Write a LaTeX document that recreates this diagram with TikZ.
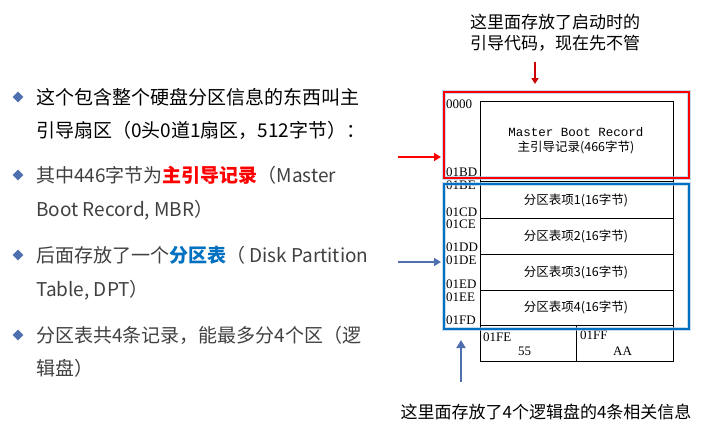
\documentclass[tikz,border=0pt]{standalone}
\usepackage{fontspec}
\setmainfont{Noto Sans CJK SC}
\newfontfamily\cjk{Noto Sans CJK SC}
\newfontfamily\monof{Liberation Mono}
\newfontfamily\serf{Liberation Serif}
\usetikzlibrary{arrows.meta,shapes.geometric}
\definecolor{bul}{HTML}{4F6FB0}
\definecolor{txt}{HTML}{404040}
\definecolor{mblue}{HTML}{0070C0}
\definecolor{glow}{HTML}{9DC3E6}
\begin{document}
\begin{tikzpicture}[x=1pt,y=-1pt,
  btxt/.style={anchor=west,inner sep=0pt,font=\fontsize{19}{22}\selectfont,text=txt},
  bmark/.style={diamond,fill=bul,inner sep=0pt,minimum size=11pt},
  cell/.style={draw,line width=0.6pt},
  ctxt/.style={font=\fontsize{12.5}{15}\selectfont,inner sep=0pt},
  hex/.style={font=\serf\fontsize{13}{13}\selectfont,inner sep=0pt,anchor=west},
  note/.style={font=\fontsize{17}{21}\selectfont,inner sep=0pt}]
\useasboundingbox (0,0) rectangle (716,432);
% bullets
\foreach \y/\n in {97/m1,175/m2,255/m3,335/m4} \node[bmark] (\n) at (18,\y) {};
\node[btxt,text=black] (t1) at (36,97) {这个包含整个硬盘分区信息的东西叫主};
\node[btxt,text=black] (t1b) at (36,130) {引导扇区（0头0道1扇区，512字节）：};
\node[btxt] (t2) at (36,175) {其中446字节为\textcolor{red}{\bfseries 主引导记录}（Master};
\node[btxt] (t2b) at (36,210) {Boot Record, MBR）};
\node[btxt] (t3) at (36,255) {后面存放了一个\textcolor{mblue}{\bfseries 分区表}（ Disk Partition};
\node[btxt] (t3b) at (36,290) {Table, DPT）};
\node[btxt] (t4) at (36,335) {分区表共4条记录，能最多分4个区（逻};
\node[btxt] (t4b) at (36,368) {辑盘）};
% table
\draw[cell] (480,101) rectangle (673,361);
\foreach \y in {181,218,254,290,325} \draw[cell] (480,\y) -- (673,\y);
\draw[cell] (576,325) -- (576,361);
\node[ctxt,align=center] (mbr) at (576,141) {{\monof Master Boot Record}\\主引导记录(466字节)};
\node[ctxt] (p1) at (576,200) {分区表项1(16字节)};
\node[ctxt] (p2) at (576,236) {分区表项2(16字节)};
\node[ctxt] (p3) at (576,272) {分区表项3(16字节)};
\node[ctxt] (p4) at (576,307) {分区表项4(16字节)};
\foreach \y/\l in {104/0000,172/01BD,185/01BE,212/01CD,224/01CE,247/01DD,260/01DE,284/01ED,297/01EE,320/01FD}
  \node[hex] (h\l) at (446,\y) {\l};
\node[hex] (hfe) at (483,337) {01FE};
\node[hex] (h55) at (518,351) {55};
\node[hex] (hff) at (580,335) {01FF};
\node[hex] (haa) at (613,351) {AA};
% highlight boxes
\draw[glow,line width=4pt,opacity=0.6] (444,92) rectangle (689,178);
\draw[glow,line width=4pt,opacity=0.6] (444,184) rectangle (689,329);
\draw[red,line width=1.5pt] (444,92) rectangle (689,178);
\draw[mblue,line width=1.5pt] (444,184) rectangle (689,329);
\coordinate (mbrbox) at (441,157);
\coordinate (dptbox) at (441,262);
\coordinate (topbox) at (535,84);
\coordinate (botbox) at (461,340);
% notes
\node[note,align=center] (n1) at (555,33) {这里面存放了启动时的\\引导代码，现在先不管};
\node[note] (n2) at (546,412) {这里面存放了4个逻辑盘的4条相关信息};
% arrows
\draw[red,line width=2pt,-{Triangle[length=7pt,width=8pt]}] (398,157) -- (mbrbox);
\draw[bul,line width=2pt,-{Triangle[length=7pt,width=8pt]}] (398,262) -- (dptbox);
\draw[red!80!black,line width=1.5pt,-{Triangle[length=6pt,width=7pt]}] (535,62) -- (topbox);
\draw[bul,line width=2.5pt,-{Triangle[length=8pt,width=9pt]}] (461,382) -- (botbox);
\end{tikzpicture}
\end{document}
